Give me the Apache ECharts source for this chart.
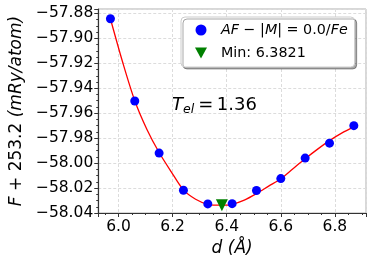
<!DOCTYPE html>
<html>
<head>
<meta charset="utf-8">
<script src="https://cdn.jsdelivr.net/npm/echarts@6/dist/echarts.min.js"></script>
<style>html,body{margin:0;padding:0;background:#fff}#c{width:374px;height:267px}</style>
</head>
<body>
<div id="c"></div>
<script>
// Data
var dValues = [5.97, 6.06, 6.15, 6.24, 6.33, 6.42, 6.51, 6.60, 6.69, 6.78, 6.87];
var fValues = [-57.8843, -57.9502, -57.9920, -58.0218, -58.0327, -58.0325, -58.0220, -58.0124, -57.9960, -57.9840, -57.9700];
var fitD = [5.97, 6.015, 6.06, 6.105, 6.15, 6.195, 6.24, 6.285, 6.33, 6.3821, 6.42, 6.465, 6.51, 6.555, 6.60, 6.645, 6.69, 6.735, 6.78, 6.825, 6.87];
var fitF = [-57.8843, -57.9190, -57.9500, -57.9730, -57.9915, -58.0070, -58.0215, -58.0290, -58.0330, -58.0337, -58.0330, -58.0297, -58.0245, -58.0185, -58.0125, -58.0045, -57.9965, -57.9890, -57.9820, -57.9760, -57.9710];
var minD = [6.3821];
var minF = [-58.0337];
var seriesName = 'AF − |M| = 0.0/Fe';
var minName = 'Min: 6.3821';
var tempLabel = '1.36';

function pairs(xs, ys) { return xs.map(function (x, i) { return [x, ys[i]]; }); }

var FONT = 'DejaVu Sans';
var chart = echarts.init(document.getElementById('c'), null, { renderer: 'canvas' });
chart.setOption({
  animation: false,
  textStyle: { fontFamily: FONT },
  grid: { left: 97, top: 9, right: 8, bottom: 54, show: true, borderColor: '#b0b0b0', borderWidth: 1 },
  xAxis: {
    type: 'value', min: 5.925, max: 6.915, splitNumber: 5,
    axisLine: { lineStyle: { color: '#333', width: 1.2 } },
    axisTick: { show: true, length: 4, lineStyle: { color: '#333' } },
    minorTick: { show: true, splitNumber: 4, length: 2, lineStyle: { color: '#333' } },
    splitLine: { show: true, lineStyle: { type: [3, 2], color: '#dcdcdc' } },
    axisLabel: { fontFamily: FONT, fontSize: 15.5, color: '#000', margin: 6, showMinLabel: false, showMaxLabel: false,
      formatter: function (v) { return v.toFixed(1); } },
    name: '{i|d} {i|(Å)}', nameLocation: 'middle', nameGap: 25,
    nameTextStyle: { fontFamily: FONT, fontSize: 17, color: '#000',
      rich: { i: { fontFamily: FONT, fontSize: 17, fontStyle: 'italic', color: '#000' } } }
  },
  yAxis: {
    type: 'value', min: -58.04, max: -57.8765, interval: 0.02,
    axisLine: { show: true, lineStyle: { color: '#333', width: 1.2 } },
    axisTick: { show: true, length: 4, lineStyle: { color: '#333' } },
    minorTick: { show: true, splitNumber: 4, length: 2, lineStyle: { color: '#333' } },
    splitLine: { show: true, lineStyle: { type: [3, 2], color: '#dcdcdc' } },
    axisLabel: { fontFamily: FONT, fontSize: 15.5, color: '#000', margin: 5, showMaxLabel: false,
      formatter: function (v) { return v.toFixed(2).replace('-', '\u2212'); } },
    name: '{i|F} + 253.2 {i|(mRy/atom)}', nameLocation: 'middle', nameGap: 72, nameRotate: 90,
    nameTextStyle: { fontFamily: FONT, fontSize: 17, color: '#000',
      rich: { i: { fontFamily: FONT, fontSize: 17, fontStyle: 'italic', color: '#000' } } }
  },
  legend: {
    orient: 'vertical', left: 181, top: 17,
    padding: [5, 7, 6, 14], itemWidth: 12, itemHeight: 11, itemGap: 7,
    backgroundColor: '#fff', borderColor: '#cccccc', borderWidth: 1, borderRadius: 4,
    shadowColor: 'rgba(0,0,0,0.35)', shadowOffsetX: 2, shadowOffsetY: 2, shadowBlur: 0,
    data: [
      { name: seriesName, icon: 'circle' },
      { name: minName, icon: 'path://M0,0 L12,0 L6,11 Z' }
    ],
    formatter: function (name) {
      if (name === seriesName) return '{p| }{i|AF} − |{i|M}| = 0.0/{i|Fe}';
      return '{p| }{r|' + name + '}';
    },
    textStyle: { fontFamily: FONT, fontSize: 14.3, color: '#000', lineHeight: 16,
      rich: {
        p: { width: 9, fontSize: 14.3, lineHeight: 16 },
        i: { fontFamily: FONT, fontSize: 14.3, fontStyle: 'italic', color: '#000', lineHeight: 16 },
        r: { fontFamily: FONT, fontSize: 14.3, color: '#000', lineHeight: 16 }
      }
    }
  },
  graphic: [{
    type: 'text', left: 172, top: 96, z: 50,
    style: {
      text: '{i|T}{s|el}{r|=\u2009' + tempLabel + '}',
      fontFamily: FONT, fontSize: 18, fill: '#000',
      rich: {
        i: { fontFamily: FONT, fontSize: 18, fontStyle: 'italic', fill: '#000' },
        s: { fontFamily: FONT, fontSize: 12.5, fontStyle: 'italic', fill: '#000', padding: [9, 4, 0, 0] },
        r: { fontFamily: FONT, fontSize: 18, fill: '#000' }
      }
    }
  }],
  series: [
    { type: 'line', name: 'fit', data: pairs(fitD, fitF), smooth: 0.3, showSymbol: false,
      lineStyle: { color: '#ff0000', width: 1.3 }, z: 2 },
    { type: 'scatter', name: seriesName, data: pairs(dValues, fValues), symbol: 'circle', symbolSize: 9,
      itemStyle: { color: '#0000ff', opacity: 1 }, z: 3 },
    { type: 'scatter', name: minName, data: pairs(minD, minF), symbol: 'triangle', symbolRotate: 180, symbolSize: 12,
      itemStyle: { color: '#008000', opacity: 1 }, z: 4 }
  ]
});
</script>
</body>
</html>
